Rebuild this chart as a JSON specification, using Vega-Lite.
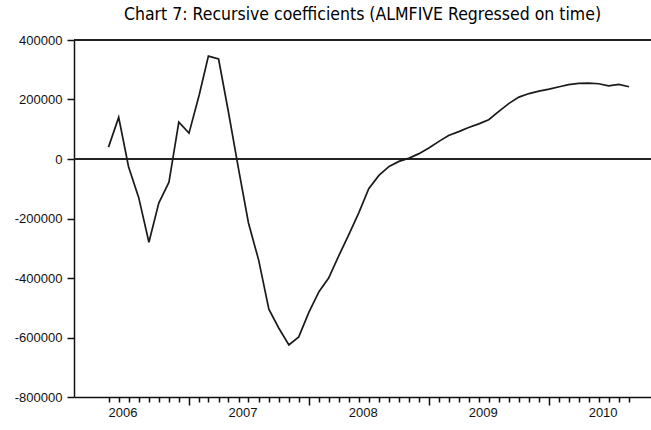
{
  "$schema": "https://vega.github.io/schema/vega-lite/v6.json",
  "autosize": "none",
  "width": 577,
  "height": 357,
  "padding": {"left": 74, "top": 40, "right": 0, "bottom": 33},
  "background": "white",
  "config": {
    "view": {"stroke": null},
    "axis": {
      "labelFont": "Liberation Sans",
      "labelFontSize": 13,
      "labelColor": "#111",
      "domainColor": "#111",
      "domainWidth": 1.5,
      "tickColor": "#111",
      "tickWidth": 1.5,
      "grid": false,
      "title": null
    }
  },
  "title": {
    "text": "Chart 7: Recursive coefficients (ALMFIVE Regressed on time)",
    "font": "DejaVu Sans Condensed, Liberation Sans",
    "fontSize": 17.5,
    "fontWeight": "normal",
    "color": "#000",
    "anchor": "middle",
    "frame": "group",
    "offset": 11
  },
  "data": {
    "values": [
      {"date": "2006-05-01", "coef": 40000},
      {"date": "2006-06-01", "coef": 140000},
      {"date": "2006-07-01", "coef": -26000},
      {"date": "2006-08-01", "coef": -130000},
      {"date": "2006-09-01", "coef": -280000},
      {"date": "2006-10-01", "coef": -148000},
      {"date": "2006-11-01", "coef": -78000},
      {"date": "2006-12-01", "coef": 124000},
      {"date": "2007-01-01", "coef": 87000},
      {"date": "2007-02-01", "coef": 215000},
      {"date": "2007-03-01", "coef": 346000},
      {"date": "2007-04-01", "coef": 336000},
      {"date": "2007-05-01", "coef": 158000},
      {"date": "2007-06-01", "coef": -35000},
      {"date": "2007-07-01", "coef": -215000},
      {"date": "2007-08-01", "coef": -340000},
      {"date": "2007-09-01", "coef": -505000},
      {"date": "2007-10-01", "coef": -568000},
      {"date": "2007-11-01", "coef": -625000},
      {"date": "2007-12-01", "coef": -598000},
      {"date": "2008-01-01", "coef": -515000},
      {"date": "2008-02-01", "coef": -445000},
      {"date": "2008-03-01", "coef": -400000},
      {"date": "2008-04-01", "coef": -325000},
      {"date": "2008-05-01", "coef": -255000},
      {"date": "2008-06-01", "coef": -180000},
      {"date": "2008-07-01", "coef": -100000},
      {"date": "2008-08-01", "coef": -55000},
      {"date": "2008-09-01", "coef": -25000},
      {"date": "2008-10-01", "coef": -8000},
      {"date": "2008-11-01", "coef": 3000},
      {"date": "2008-12-01", "coef": 18000},
      {"date": "2009-01-01", "coef": 38000},
      {"date": "2009-02-01", "coef": 60000},
      {"date": "2009-03-01", "coef": 79000},
      {"date": "2009-04-01", "coef": 92000},
      {"date": "2009-05-01", "coef": 106000},
      {"date": "2009-06-01", "coef": 118000},
      {"date": "2009-07-01", "coef": 132000},
      {"date": "2009-08-01", "coef": 160000},
      {"date": "2009-09-01", "coef": 187000},
      {"date": "2009-10-01", "coef": 208000},
      {"date": "2009-11-01", "coef": 220000},
      {"date": "2009-12-01", "coef": 228000},
      {"date": "2010-01-01", "coef": 235000},
      {"date": "2010-02-01", "coef": 243000},
      {"date": "2010-03-01", "coef": 250000},
      {"date": "2010-04-01", "coef": 254000},
      {"date": "2010-05-01", "coef": 255000},
      {"date": "2010-06-01", "coef": 253000},
      {"date": "2010-07-01", "coef": 246000},
      {"date": "2010-08-01", "coef": 251000},
      {"date": "2010-09-01", "coef": 243000}
    ]
  },
  "layer": [
    {
      "mark": {"type": "rule", "color": "#222", "strokeWidth": 2},
      "encoding": {"y": {"datum": 400000, "type": "quantitative"}}
    },
    {
      "mark": {"type": "rule", "color": "#222", "strokeWidth": 2},
      "encoding": {"y": {"datum": 0, "type": "quantitative"}}
    },
    {
      "mark": {"type": "line", "color": "#1a1a1a", "strokeWidth": 1.7},
      "encoding": {
        "x": {
          "field": "date",
          "type": "temporal",
          "scale": {
            "type": "utc",
            "nice": false,
            "domain": [
              {"year": 2006, "month": 1, "date": 16, "utc": true},
              {"year": 2010, "month": 11, "date": 7, "utc": true}
            ]
          },
          "axis": {
            "values": [
              {"year": 2006, "month": 5, "date": 1, "utc": true},
              {"year": 2006, "month": 6, "date": 1, "utc": true},
              {"year": 2006, "month": 7, "date": 1, "utc": true},
              {"year": 2006, "month": 8, "date": 1, "utc": true},
              {"year": 2006, "month": 9, "date": 1, "utc": true},
              {"year": 2006, "month": 10, "date": 1, "utc": true},
              {"year": 2006, "month": 11, "date": 1, "utc": true},
              {"year": 2006, "month": 12, "date": 1, "utc": true},
              {"year": 2007, "month": 1, "date": 1, "utc": true},
              {"year": 2007, "month": 2, "date": 1, "utc": true},
              {"year": 2007, "month": 3, "date": 1, "utc": true},
              {"year": 2007, "month": 4, "date": 1, "utc": true},
              {"year": 2007, "month": 5, "date": 1, "utc": true},
              {"year": 2007, "month": 6, "date": 1, "utc": true},
              {"year": 2007, "month": 7, "date": 1, "utc": true},
              {"year": 2007, "month": 8, "date": 1, "utc": true},
              {"year": 2007, "month": 9, "date": 1, "utc": true},
              {"year": 2007, "month": 10, "date": 1, "utc": true},
              {"year": 2007, "month": 11, "date": 1, "utc": true},
              {"year": 2007, "month": 12, "date": 1, "utc": true},
              {"year": 2008, "month": 1, "date": 1, "utc": true},
              {"year": 2008, "month": 2, "date": 1, "utc": true},
              {"year": 2008, "month": 3, "date": 1, "utc": true},
              {"year": 2008, "month": 4, "date": 1, "utc": true},
              {"year": 2008, "month": 5, "date": 1, "utc": true},
              {"year": 2008, "month": 6, "date": 1, "utc": true},
              {"year": 2008, "month": 7, "date": 1, "utc": true},
              {"year": 2008, "month": 8, "date": 1, "utc": true},
              {"year": 2008, "month": 9, "date": 1, "utc": true},
              {"year": 2008, "month": 10, "date": 1, "utc": true},
              {"year": 2008, "month": 11, "date": 1, "utc": true},
              {"year": 2008, "month": 12, "date": 1, "utc": true},
              {"year": 2009, "month": 1, "date": 1, "utc": true},
              {"year": 2009, "month": 2, "date": 1, "utc": true},
              {"year": 2009, "month": 3, "date": 1, "utc": true},
              {"year": 2009, "month": 4, "date": 1, "utc": true},
              {"year": 2009, "month": 5, "date": 1, "utc": true},
              {"year": 2009, "month": 6, "date": 1, "utc": true},
              {"year": 2009, "month": 7, "date": 1, "utc": true},
              {"year": 2009, "month": 8, "date": 1, "utc": true},
              {"year": 2009, "month": 9, "date": 1, "utc": true},
              {"year": 2009, "month": 10, "date": 1, "utc": true},
              {"year": 2009, "month": 11, "date": 1, "utc": true},
              {"year": 2009, "month": 12, "date": 1, "utc": true},
              {"year": 2010, "month": 1, "date": 1, "utc": true},
              {"year": 2010, "month": 2, "date": 1, "utc": true},
              {"year": 2010, "month": 3, "date": 1, "utc": true},
              {"year": 2010, "month": 4, "date": 1, "utc": true},
              {"year": 2010, "month": 5, "date": 1, "utc": true},
              {"year": 2010, "month": 6, "date": 1, "utc": true},
              {"year": 2010, "month": 7, "date": 1, "utc": true},
              {"year": 2010, "month": 8, "date": 1, "utc": true},
              {"year": 2010, "month": 9, "date": 1, "utc": true}
            ],
            "tickSize": {"condition": {"test": "utcmonth(datum.value) == 0", "value": 8}, "value": 5},
            "labelExpr": "utcmonth(datum.value) == 6 ? utcFormat(datum.value, '%Y') : ''",
            "labelOffset": -6,
            "labelPadding": 4,
            "labelOverlap": false,
            "labelFlush": false
          }
        },
        "y": {
          "field": "coef",
          "type": "quantitative",
          "scale": {"domain": [-800000, 400000], "nice": false, "zero": false},
          "axis": {
            "values": [-800000, -600000, -400000, -200000, 0, 200000, 400000],
            "labelExpr": "replace(format(datum.value, 'd'), '\u2212', '-')",
            "tickSize": 7,
            "labelPadding": 5
          }
        }
      }
    }
  ]
}
